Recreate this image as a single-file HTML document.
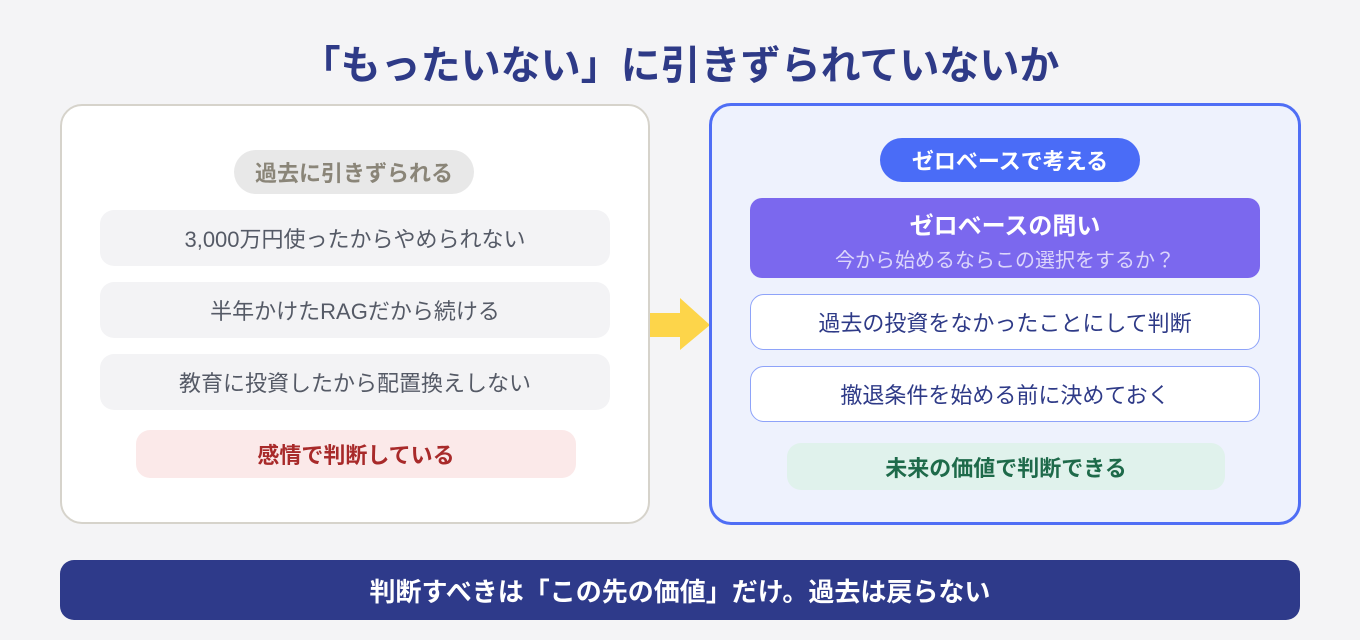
<!DOCTYPE html>
<html><head><meta charset="utf-8"><style>
*{margin:0;padding:0;box-sizing:border-box}
body{width:1360px;height:640px;background:#f4f4f6;position:relative;overflow:hidden;font-family:"Liberation Sans","Noto Sans CJK JP",sans-serif}
.a{position:absolute;display:flex;align-items:center;justify-content:center;white-space:nowrap}
</style></head><body>
<div class="a" style="left:0;width:1360px;top:34px;height:56px;font-size:40px;font-weight:700;color:#2e3a87">「もったいない」に引きずられていないか</div>

<div class="a" style="left:60px;top:104px;width:590px;height:420px;background:#fff;border:2px solid #d6d3cb;border-radius:22px"></div>
<div class="a" style="left:234px;top:150px;width:240px;height:44px;background:#e8e8e8;border-radius:22px;font-size:22px;font-weight:700;color:#8a8578">過去に引きずられる</div>
<div class="a" style="left:100px;top:210px;width:510px;height:56px;background:#f3f3f5;border-radius:14px;font-size:22px;color:#555a66">3,000万円使ったからやめられない</div>
<div class="a" style="left:100px;top:282px;width:510px;height:56px;background:#f3f3f5;border-radius:14px;font-size:22px;color:#555a66">半年かけたRAGだから続ける</div>
<div class="a" style="left:100px;top:354px;width:510px;height:56px;background:#f3f3f5;border-radius:14px;font-size:22px;color:#555a66">教育に投資したから配置換えしない</div>
<div class="a" style="left:136px;top:430px;width:440px;height:48px;background:#fbe9e9;border-radius:14px;font-size:22px;font-weight:700;color:#a82a2a">感情で判断している</div>

<svg style="position:absolute;left:648px;top:296px" width="64" height="56"><polygon points="2,17 32,17 32,2 62,29 32,54 32,41 2,41" fill="#fdd54a"/></svg>

<div class="a" style="left:709px;top:103px;width:592px;height:422px;background:#eef2fd;border:3px solid #4f6ef5;border-radius:22px"></div>
<div class="a" style="left:880px;top:138px;width:260px;height:44px;background:#4a6cf7;border-radius:22px;font-size:22px;font-weight:700;color:#fff">ゼロベースで考える</div>
<div style="position:absolute;left:750px;top:198px;width:510px;height:80px;background:#7b68ee;border-radius:12px"></div>
<div class="a" style="left:750px;top:206px;width:510px;height:34px;font-size:24px;font-weight:700;color:#fff">ゼロベースの問い</div>
<div class="a" style="left:750px;top:243px;width:510px;height:30px;font-size:20px;color:#dcd6fb">今から始めるならこの選択をするか？</div>
<div class="a" style="left:750px;top:294px;width:510px;height:56px;background:#fff;border:1px solid #8ea3f9;border-radius:14px;font-size:22px;color:#2e3a87">過去の投資をなかったことにして判断</div>
<div class="a" style="left:750px;top:366px;width:510px;height:56px;background:#fff;border:1px solid #8ea3f9;border-radius:14px;font-size:22px;color:#2e3a87">撤退条件を始める前に決めておく</div>
<div class="a" style="left:787px;top:443px;width:438px;height:47px;background:#e0f2ec;border-radius:14px;font-size:22px;font-weight:700;color:#1e6a4a">未来の価値で判断できる</div>

<div class="a" style="left:60px;top:560px;width:1240px;height:60px;background:#2e3a8a;border-radius:14px;font-size:26px;font-weight:700;color:#fff">判断すべきは「この先の価値」だけ。過去は戻らない</div>
</body></html>
